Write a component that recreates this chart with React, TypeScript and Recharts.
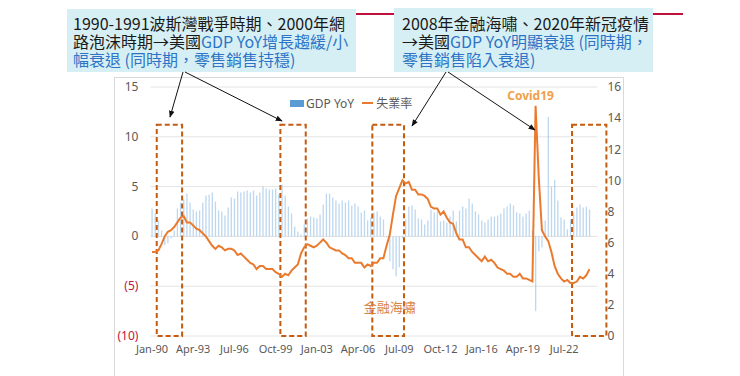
import React from "react";
import {
  ComposedChart,
  Bar,
  Line,
  XAxis,
  YAxis,
  CartesianGrid,
  Legend,
  ReferenceArea,
  ReferenceDot,
} from "recharts";

// quarterly categories Jan-90 .. Jan-25
const MONTHS = ["Jan", "Apr", "Jul", "Oct"];
const quarters: string[] = [];
for (let y = 1990; y <= 2025; y++) {
  for (const m of MONTHS) quarters.push(`${m}-${String(y % 100).padStart(2, "0")}`);
}
const categories = quarters.slice(0, 141);

// US real GDP YoY %, Q1 1990 .. Q3 2024
const gdpYoY = [
  2.8, 2.3, 1.6, 0.6, -0.9, -0.7, -0.2, 0.6, 2.8, 3.4, 3.7, 4.3,
  3.4, 2.7, 2.5, 2.6, 3.4, 4.1, 4.2, 4.4, 3.5, 2.6, 2.5, 2.1,
  2.9, 3.9, 3.8, 4.5, 4.4, 4.5, 4.6, 4.4, 4.6, 4.1, 4.4, 5.0,
  4.8, 4.7, 4.7, 4.8, 4.2, 5.2, 4.1, 3.0, 2.3, 1.0, 0.5, 0.2,
  1.2, 1.8, 2.0, 1.9, 1.8, 2.2, 3.2, 4.3, 4.3, 3.9, 3.6, 3.3,
  3.6, 3.4, 3.6, 3.1, 3.3, 3.0, 2.4, 2.6, 1.6, 1.9, 2.4, 2.5,
  2.0, 1.7, -0.1, -2.5, -3.3, -4.0, -3.1, -0.2, 1.7, 3.0, 3.1, 2.7,
  1.8, 1.7, 1.2, 1.6, 2.7, 2.4, 2.5, 1.5, 1.6, 1.4, 2.0, 2.6,
  1.5, 2.6, 3.0, 2.8, 3.8, 3.3, 2.5, 2.2, 1.6, 1.4, 1.7, 2.0,
  2.0, 2.1, 2.3, 2.8, 3.0, 3.3, 3.1, 2.4, 2.3, 2.0, 2.3, 2.6,
  0.6, -7.5, -1.5, -1.1, 1.6, 12.0, 5.0, 5.7, 3.6, 1.9, 1.7, 0.7,
  1.7, 2.4, 2.9, 3.2, 2.9, 3.0, 2.7,
];

// US unemployment rate %, Q1 1990 .. Q3 2024
const unemployment = [
  5.4, 5.4, 5.5, 5.9, 6.4, 6.7, 6.8, 7.0, 7.3, 7.6, 7.7, 7.3,
  7.3, 7.1, 6.9, 6.8, 6.6, 6.4, 6.1, 5.8, 5.6, 5.8, 5.7, 5.5,
  5.6, 5.6, 5.5, 5.2, 5.3, 5.1, 4.9, 4.7, 4.6, 4.3, 4.5, 4.5,
  4.3, 4.3, 4.3, 4.1, 4.0, 3.8, 4.0, 3.9, 4.2, 4.4, 4.6, 5.3,
  5.7, 5.9, 5.8, 5.7, 5.8, 6.0, 6.2, 6.0, 5.7, 5.6, 5.5, 5.5,
  5.3, 5.2, 5.0, 5.0, 4.7, 4.7, 4.7, 4.4, 4.6, 4.5, 4.7, 4.7,
  5.0, 5.0, 5.8, 6.5, 7.8, 9.0, 9.5, 10.0, 9.8, 9.9, 9.4, 9.4,
  9.1, 9.1, 9.0, 8.8, 8.3, 8.2, 8.2, 7.8, 8.0, 7.6, 7.3, 7.2,
  6.6, 6.2, 6.2, 5.7, 5.7, 5.4, 5.2, 5.0, 4.8, 5.1, 4.8, 4.9,
  4.7, 4.4, 4.3, 4.2, 4.0, 4.0, 3.8, 3.8, 4.0, 3.7, 3.7, 3.6,
  3.5, 14.8, 10.2, 6.8, 6.4, 6.1, 5.4, 4.5, 4.0, 3.7, 3.5, 3.6,
  3.4, 3.4, 3.5, 3.8, 3.7, 3.9, 4.3,
];

const leftTicks = [-10, -5, 0, 5, 10, 15];
const rightTicks = [0, 2, 4, 6, 8, 10, 12, 14, 16];

const data = categories.map((q, i) => ({
  quarter: q,
  gdp: gdpYoY[i] ?? null,
  unemp: unemployment[i] ?? null,
}));

const BOX = "#c55a11";
const BLUE = "#2e74c6";

const LeftTick = ({ x, y, payload }: any) => {
  const v = payload.value as number;
  return (
    <text
      x={x}
      y={y}
      dy={4}
      textAnchor="end"
      fontSize={12}
      fill={v < 0 ? "#c0143c" : "#595959"}
    >
      {v < 0 ? `(${-v})` : v}
    </text>
  );
};

const LegendBox = ({ payload }: any) => (
  <div style={{ display: "flex", alignItems: "center", fontSize: 12, color: "#595959" }}>
    {(payload || []).map((p: any) => (
      <div key={p.value} style={{ display: "flex", alignItems: "center", marginRight: 8 }}>
        {p.type === "plainline" ? (
          <span style={{ width: 11, height: 2, background: p.color, marginRight: 3 }} />
        ) : (
          <span style={{ width: 14, height: 7, background: p.color, marginRight: 2 }} />
        )}
        <span>{p.value}</span>
      </div>
    ))}
  </div>
);

const wideBox = (p: any) => (
  <rect
    x={p.x}
    y={p.y}
    width={p.width + 9}
    height={p.height}
    fill="none"
    stroke={BOX}
    strokeWidth={2}
    strokeDasharray="5 3"
  />
);

export default function App() {
  const boxStyle: React.CSSProperties = {
    position: "absolute",
    background: "#d6eff4",
    fontFamily: "'Noto Sans CJK TC', sans-serif",
    fontSize: 16,
    lineHeight: "18px",
    color: "#1a1a1a",
    whiteSpace: "nowrap",
  };

  return (
    <div
      style={{
        position: "absolute",
        left: 0,
        top: 0,
        width: 740,
        height: 376,
        background: "#fff",
        overflow: "hidden",
      }}
    >
      <div
        style={{
          position: "absolute",
          left: 114,
          top: 77,
          width: 510,
          height: 320,
          border: "1px solid #d9d9d9",
          boxSizing: "border-box",
        }}
      />
      <div style={{ position: "absolute", left: 0, top: 0 }}>
        <ComposedChart
          width={740}
          height={376}
          data={data}
          margin={{ top: 87, right: 112.6, bottom: 10, left: 110.4 }}
          style={{ fontFamily: "'Noto Sans', 'Noto Sans CJK TC', sans-serif" }}
        >
          <CartesianGrid yAxisId="left" vertical={false} stroke="#e4e4e4" />
          <XAxis
            dataKey="quarter"
            interval={12}
            tickLine={false}
            axisLine={false}
            height={30}
            tickMargin={3}
            tick={{ fontSize: 11, fill: "#595959" }}
          />
          <YAxis
            yAxisId="left"
            domain={[-10, 15]}
            ticks={leftTicks}
            width={40}
            tickLine={false}
            axisLine={false}
            tickMargin={6}
            tick={<LeftTick />}
          />
          <YAxis
            yAxisId="right"
            orientation="right"
            domain={[0, 16]}
            ticks={rightTicks}
            width={30}
            tickLine={false}
            axisLine={false}
            tickMargin={4}
            tick={{ fontSize: 12, fill: "#595959" }}
          />
          <Legend
            layout="horizontal"
            verticalAlign="middle"
            align="center"
            content={<LegendBox />}
            wrapperStyle={{ top: 94, left: 290, width: "auto" }}
          />
          <Bar
            yAxisId="left"
            dataKey="gdp"
            name="GDP YoY"
            fill="#5b9bd5"
            fillOpacity={0.4}
            barSize={1.3}
            legendType="rect"
            isAnimationActive={false}
          />
          <Line
            yAxisId="right"
            dataKey="unemp"
            name="失業率"
            type="linear"
            stroke="#ea7b2e"
            strokeWidth={2}
            dot={false}
            legendType="plainline"
            isAnimationActive={false}
          />
          <ReferenceArea yAxisId="left" x1="Jul-90" x2="Apr-92" y1={-10} y2={11.2} fill="none" stroke={BOX} strokeWidth={2} strokeDasharray="5 3" />
          <ReferenceArea yAxisId="left" x1="Apr-00" x2="Jan-02" y1={-10} y2={11.2} fill="none" stroke={BOX} strokeWidth={2} strokeDasharray="5 3" />
          <ReferenceArea yAxisId="left" x1="Jul-07" x2="Oct-09" y1={-10} y2={11.2} fill="none" stroke={BOX} strokeWidth={2} strokeDasharray="5 3" />
          <ReferenceArea yAxisId="left" x1="Apr-23" x2="Jan-25" y1={-10} y2={11.2} shape={wideBox} />
          <ReferenceDot
            yAxisId="right"
            x="Apr-20"
            y={14.8}
            r={0}
            fill="none"
            stroke="none"
            label={{ value: "Covid19", position: "top", offset: 6, fill: "#f0a04b", fontSize: 12, fontWeight: 700, dx: -5 }}
          />
          <ReferenceDot
            yAxisId="left"
            x="Oct-08"
            y={-7.1}
            r={0}
            fill="none"
            stroke="none"
            label={{ value: "金融海嘯", position: "center", fill: "#d9843e", fontSize: 13 }}
          />
        </ComposedChart>
      </div>

      <svg width={740} height={376} style={{ position: "absolute", left: 0, top: 0, pointerEvents: "none" }}>
        <line x1={340} y1={14} x2={683} y2={14} stroke="#be123c" strokeWidth={2} />
      </svg>

      <div style={{ ...boxStyle, left: 67, top: 9, width: 289, height: 63, padding: "5px 0 0 6px", boxSizing: "border-box" }}>
        <div>1990-1991波斯灣戰爭時期、2000年網</div>
        <div>
          路泡沫時期→美國<span style={{ color: BLUE }}>GDP YoY增長趨緩/小</span>
        </div>
        <div style={{ color: BLUE }}>幅衰退 (同時期，零售銷售持穩)</div>
      </div>
      <div style={{ ...boxStyle, left: 394, top: 8, width: 259, height: 64, padding: "6px 0 0 8px", boxSizing: "border-box" }}>
        <div>2008年金融海嘯、2020年新冠疫情</div>
        <div>
          →美國<span style={{ color: BLUE }}>GDP YoY明顯衰退 (同時期，</span>
        </div>
        <div style={{ color: BLUE }}>零售銷售陷入衰退)</div>
      </div>

      <svg width={740} height={376} style={{ position: "absolute", left: 0, top: 0, pointerEvents: "none" }}>
        <defs>
          <marker id="arr" viewBox="0 0 10 10" refX="9" refY="5" markerWidth="7" markerHeight="7" orient="auto">
            <path d="M0,1 L10,5 L0,9 z" fill="#111" />
          </marker>
        </defs>
        <line x1={183} y1={72} x2={170} y2={117} stroke="#111" strokeWidth={1} markerEnd="url(#arr)" />
        <line x1={185} y1={72} x2={282} y2={121} stroke="#111" strokeWidth={1} markerEnd="url(#arr)" />
        <line x1={446} y1={72} x2={412} y2={126} stroke="#111" strokeWidth={1} markerEnd="url(#arr)" />
        <line x1={448} y1={72} x2={535} y2={130} stroke="#111" strokeWidth={1} markerEnd="url(#arr)" />
      </svg>
    </div>
  );
}
